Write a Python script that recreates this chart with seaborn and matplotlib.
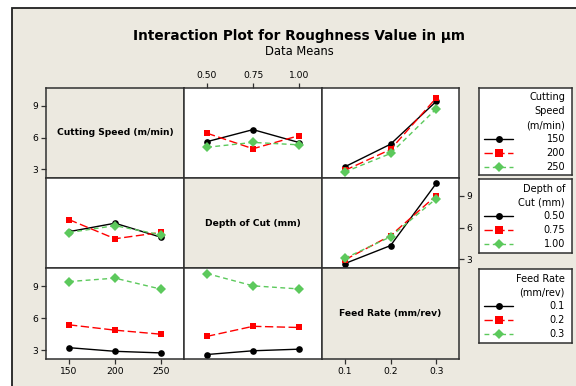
import matplotlib
matplotlib.use("Agg")
import matplotlib.pyplot as plt
import pandas as pd
import seaborn as sns
from matplotlib.lines import Line2D
from matplotlib.patches import Rectangle

# ---- factor levels ----
speed_levels = [150, 200, 250]
depth_levels = [0.50, 0.75, 1.00]
feed_levels = [0.1, 0.2, 0.3]

speed_labels = ["150", "200", "250"]
depth_labels = ["0.50", "0.75", "1.00"]
feed_labels = ["0.1", "0.2", "0.3"]

factor_names = ["Cutting Speed (m/min)", "Depth of Cut (mm)", "Feed Rate (mm/rev)"]
legend_titles = ["Cutting\nSpeed\n(m/min)", "Depth of\nCut (mm)", "Feed Rate\n(mm/rev)"]

# ---- mean roughness (µm) for each pair of levels (rows = first factor) ----
speed_x_depth = [[5.62, 6.76, 5.54],
                 [6.42, 4.95, 6.19],
                 [5.09, 5.55, 5.32]]
speed_x_feed = [[3.24, 5.38, 9.43],
                [2.90, 4.88, 9.75],
                [2.75, 4.50, 8.72]]
depth_x_feed = [[2.60, 4.30, 10.18],
                [2.95, 5.24, 9.03],
                [3.10, 5.13, 8.74]]

y_ticks = [3, 6, 9]

levels = [speed_levels, depth_levels, feed_levels]
labels = [speed_labels, depth_labels, feed_labels]
pair_tables = {(0, 1): speed_x_depth, (0, 2): speed_x_feed, (1, 2): depth_x_feed}


def pair_means(line_f, x_f):
    """Table indexed [line level][x level]."""
    if (line_f, x_f) in pair_tables:
        return pair_tables[(line_f, x_f)]
    t = pair_tables[(x_f, line_f)]
    return [[t[b][a] for b in range(3)] for a in range(3)]


# ---- styling ----
W, H = 576, 386
BEIGE = "#ECE9E0"
EDGE = "#303030"
colors = ["#000000", "#FF0000", "#5CC95C"]
markers = ["o", "s", "D"]
msizes = [4.4, 4.8, 4.8]
dash_styles = [(), (6, 2.5), (3.5, 2.5)]

sns.set_theme(style="white")
plt.rcParams["font.family"] = ["DejaVu Sans"]
plt.rcParams["axes.linewidth"] = 1.1
plt.rcParams["text.color"] = "black"
plt.rcParams["xtick.color"] = "black"
plt.rcParams["ytick.color"] = "black"

fig = plt.figure(figsize=(W / 100, H / 100), dpi=100, facecolor="white")

# background frame
bg = fig.add_axes([0, 0, 1, 1], zorder=-5)
bg.set_xlim(0, W)
bg.set_ylim(H, 0)
bg.axis("off")
bg.add_patch(Rectangle((12, 8), W + 20, H + 20, facecolor=BEIGE,
                       edgecolor="#202020", lw=1.3))

fig.text(299 / W, 1 - 36 / H, "Interaction Plot for Roughness Value in µm",
         ha="center", va="center", fontsize=9.8, fontweight="bold", color="black")
fig.text(299 / W, 1 - 51.5 / H, "Data Means", ha="center", va="center",
         fontsize=8.3, color="black")

col_x = [46, 184, 322, 459]
row_y = [88, 178, 268, 359]
xlims = [(125, 275), (0.375, 1.125), (0.05, 0.35)]
ylim = (2.18, 10.7)


def px_axes(x0, y0, x1, y1):
    return fig.add_axes([x0 / W, 1 - y1 / H, (x1 - x0) / W, (y1 - y0) / H])


tick_kw = dict(labelsize=6.6, length=3.5, width=0.9, color=EDGE, pad=2,
               labelcolor="black")

for i in range(3):
    for j in range(3):
        ax = px_axes(col_x[j], row_y[i], col_x[j + 1], row_y[i + 1])
        ax.set_xlim(*xlims[j])
        ax.set_ylim(*ylim)
        for s in ax.spines.values():
            s.set_color(EDGE)
            s.set_linewidth(1.1)
        ax.set_xticks([])
        ax.set_yticks([])
        if i == j:
            ax.set_facecolor(BEIGE)
            ax.text(0.5, 0.5, factor_names[i], transform=ax.transAxes,
                    ha="center", va="center", fontsize=6.6, fontweight="bold",
                    color="black")
        else:
            ax.set_facecolor("white")
            table = pair_means(i, j)
            rows = []
            for a in range(3):
                for b in range(3):
                    rows.append({"x": levels[j][b], "y": table[a][b],
                                 "line": labels[i][a]})
            df = pd.DataFrame(rows)
            sns.lineplot(data=df, x="x", y="y", hue="line", style="line",
                         hue_order=labels[i], style_order=labels[i],
                         palette=colors, markers=markers, dashes=dash_styles,
                         markersize=4.8, markeredgewidth=0, linewidth=1.0,
                         legend=False, ax=ax)
            ax.set_xlabel("")
            ax.set_ylabel("")
            ax.set_xlim(*xlims[j])
            ax.set_ylim(*ylim)

        # outer tick axes, alternating Minitab-style
        if j == 0 and i in (0, 2):
            ax.set_yticks(y_ticks)
            ax.set_yticklabels([str(v) for v in y_ticks])
            ax.tick_params(axis="y", left=True, **tick_kw)
        if j == 2 and i == 1:
            ax.yaxis.tick_right()
            ax.set_yticks(y_ticks)
            ax.set_yticklabels([str(v) for v in y_ticks])
            ax.tick_params(axis="y", right=True, **tick_kw)
        if i == 0 and j == 1:
            ax.xaxis.tick_top()
            ax.set_xticks(levels[j])
            ax.set_xticklabels(labels[j])
            ax.tick_params(axis="x", top=True, **tick_kw)
        if i == 2 and j in (0, 2):
            ax.set_xticks(levels[j])
            ax.set_xticklabels(labels[j])
            ax.tick_params(axis="x", bottom=True, **tick_kw)

# legend boxes, one for each factor row
legend_boxes = [(479, 88, 572, 175), (479, 179, 572, 253), (479, 269, 572, 343)]
for k, (x0, y0, x1, y1) in enumerate(legend_boxes):
    lax = px_axes(x0, y0, x1, y1)
    lax.set_xlim(0, x1 - x0)
    lax.set_ylim(y1 - y0, 0)
    lax.set_xticks([])
    lax.set_yticks([])
    lax.set_facecolor("white")
    for s in lax.spines.values():
        s.set_color(EDGE)
        s.set_linewidth(1.1)
    title_lines = legend_titles[k].split("\n")
    yy = 9.5
    for t in title_lines:
        lax.text(86, yy, t, ha="right", va="center", fontsize=7, color="black")
        yy += 13.8
    for a in range(3):
        lax.add_line(Line2D([5, 34], [yy, yy], color=colors[a], lw=1.0,
                            dashes=dash_styles[a] if dash_styles[a] else (None, None)))
        lax.add_line(Line2D([19.5], [yy], color=colors[a], marker=markers[a],
                            markersize=msizes[a] + 0.6, markeredgewidth=0, lw=0))
        lax.text(86, yy, labels[k][a], ha="right", va="center", fontsize=7,
                 color="black")
        yy += 13.8

fig.savefig("out.png", dpi=100, facecolor="white")
